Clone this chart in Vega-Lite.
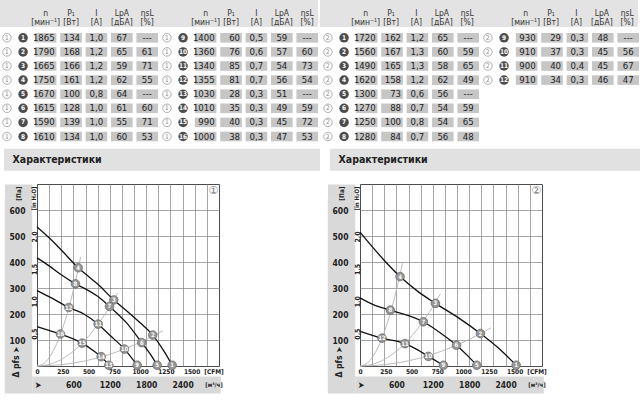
{
  "$schema": "https://vega.github.io/schema/vega-lite/v6.json",
  "background": "white",
  "padding": 0,
  "config": {
    "view": {"stroke": null},
    "font": "'Liberation Sans Narrow', 'DejaVu Sans Condensed', sans-serif",
    "axis": {"minExtent": 0, "labelFont": "'Liberation Sans Narrow', 'DejaVu Sans Condensed', sans-serif", "titleFont": "'Liberation Sans Narrow', 'DejaVu Sans Condensed', sans-serif", "labelColor": "#222", "titleColor": "#222"},
    "title": {"font": "'DejaVu Sans', sans-serif"}
  },
  "datasets": {
    "tabL": [
      {"g":1,"r":1,"k":1,"ch":1,"n":"1865","p":"134","i":"1,0","lp":"67","e":"---"},
      {"g":1,"r":2,"k":2,"ch":1,"n":"1790","p":"168","i":"1,2","lp":"65","e":"61"},
      {"g":1,"r":3,"k":3,"ch":1,"n":"1665","p":"166","i":"1,2","lp":"59","e":"71"},
      {"g":1,"r":4,"k":4,"ch":1,"n":"1750","p":"161","i":"1,2","lp":"62","e":"55"},
      {"g":1,"r":5,"k":5,"ch":1,"n":"1670","p":"100","i":"0,8","lp":"64","e":"---"},
      {"g":1,"r":6,"k":6,"ch":1,"n":"1615","p":"128","i":"1,0","lp":"61","e":"60"},
      {"g":1,"r":7,"k":7,"ch":1,"n":"1590","p":"139","i":"1,0","lp":"55","e":"71"},
      {"g":1,"r":8,"k":8,"ch":1,"n":"1610","p":"134","i":"1,0","lp":"60","e":"53"},
      {"g":2,"r":1,"k":9,"ch":1,"n":"1400","p":"60","i":"0,5","lp":"59","e":"---"},
      {"g":2,"r":2,"k":10,"ch":1,"n":"1360","p":"76","i":"0,6","lp":"57","e":"60"},
      {"g":2,"r":3,"k":11,"ch":1,"n":"1340","p":"85","i":"0,7","lp":"54","e":"73"},
      {"g":2,"r":4,"k":12,"ch":1,"n":"1355","p":"81","i":"0,7","lp":"56","e":"54"},
      {"g":2,"r":5,"k":13,"ch":1,"n":"1030","p":"28","i":"0,3","lp":"51","e":"---"},
      {"g":2,"r":6,"k":14,"ch":1,"n":"1010","p":"35","i":"0,3","lp":"49","e":"59"},
      {"g":2,"r":7,"k":15,"ch":1,"n":"990","p":"40","i":"0,3","lp":"45","e":"72"},
      {"g":2,"r":8,"k":16,"ch":1,"n":"1000","p":"38","i":"0,3","lp":"47","e":"53"}
    ],
    "tabR": [
      {"g":1,"r":1,"k":1,"ch":2,"n":"1720","p":"162","i":"1,2","lp":"65","e":"---"},
      {"g":1,"r":2,"k":2,"ch":2,"n":"1560","p":"167","i":"1,3","lp":"60","e":"59"},
      {"g":1,"r":3,"k":3,"ch":2,"n":"1490","p":"165","i":"1,3","lp":"58","e":"65"},
      {"g":1,"r":4,"k":4,"ch":2,"n":"1620","p":"158","i":"1,2","lp":"62","e":"49"},
      {"g":1,"r":5,"k":5,"ch":2,"n":"1300","p":"73","i":"0,6","lp":"56","e":"---"},
      {"g":1,"r":6,"k":6,"ch":2,"n":"1270","p":"88","i":"0,7","lp":"54","e":"59"},
      {"g":1,"r":7,"k":7,"ch":2,"n":"1250","p":"100","i":"0,8","lp":"54","e":"65"},
      {"g":1,"r":8,"k":8,"ch":2,"n":"1280","p":"84","i":"0,7","lp":"56","e":"48"},
      {"g":2,"r":1,"k":9,"ch":2,"n":"930","p":"29","i":"0,3","lp":"48","e":"---"},
      {"g":2,"r":2,"k":10,"ch":2,"n":"910","p":"37","i":"0,3","lp":"45","e":"56"},
      {"g":2,"r":3,"k":11,"ch":2,"n":"900","p":"40","i":"0,4","lp":"45","e":"67"},
      {"g":2,"r":4,"k":12,"ch":2,"n":"910","p":"34","i":"0,3","lp":"46","e":"47"}
    ],
    "hdr": [
      {"g":1,"key":"n","h1":"n","h2":"[мин⁻¹]"},
      {"g":1,"key":"p","h1":"P₁","h2":"[Вт]"},
      {"g":1,"key":"i","h1":"I","h2":"[A]"},
      {"g":1,"key":"lp","h1":"LpA","h2":"[дБА]"},
      {"g":1,"key":"e","h1":"ηsL","h2":"[%]"},
      {"g":2,"key":"n","h1":"n","h2":"[мин⁻¹]"},
      {"g":2,"key":"p","h1":"P₁","h2":"[Вт]"},
      {"g":2,"key":"i","h1":"I","h2":"[A]"},
      {"g":2,"key":"lp","h1":"LpA","h2":"[дБА]"},
      {"g":2,"key":"e","h1":"ηsL","h2":"[%]"}
    ],
    "bar": [{"t": "Характеристики"}],
    "sp": [{"t": ""}],
    "curves": [
      {"c":1,"s":"A","x":0,"y":535},{"c":1,"s":"A","x":200,"y":493},{"c":1,"s":"A","x":400,"y":446},{"c":1,"s":"A","x":679,"y":378},{"c":1,"s":"A","x":850,"y":344},{"c":1,"s":"A","x":1000,"y":315},{"c":1,"s":"A","x":1266,"y":254},{"c":1,"s":"A","x":1500,"y":208},{"c":1,"s":"A","x":1700,"y":166},{"c":1,"s":"A","x":1908,"y":119},{"c":1,"s":"A","x":2090,"y":58},{"c":1,"s":"A","x":2228,"y":3},
      {"c":1,"s":"B","x":0,"y":416},{"c":1,"s":"B","x":200,"y":385},{"c":1,"s":"B","x":400,"y":351},{"c":1,"s":"B","x":634,"y":316},{"c":1,"s":"B","x":850,"y":290},{"c":1,"s":"B","x":1000,"y":268},{"c":1,"s":"B","x":1195,"y":229},{"c":1,"s":"B","x":1480,"y":165},{"c":1,"s":"B","x":1727,"y":90},{"c":1,"s":"B","x":1871,"y":45},{"c":1,"s":"B","x":1981,"y":3},
      {"c":1,"s":"C","x":0,"y":290},{"c":1,"s":"C","x":222,"y":264},{"c":1,"s":"C","x":524,"y":225},{"c":1,"s":"C","x":772,"y":200},{"c":1,"s":"C","x":1008,"y":161},{"c":1,"s":"C","x":1211,"y":116},{"c":1,"s":"C","x":1442,"y":65},{"c":1,"s":"C","x":1651,"y":3},
      {"c":1,"s":"D","x":0,"y":151},{"c":1,"s":"D","x":222,"y":135},{"c":1,"s":"D","x":387,"y":123},{"c":1,"s":"D","x":745,"y":88},{"c":1,"s":"D","x":936,"y":58},{"c":1,"s":"D","x":1058,"y":36},{"c":1,"s":"D","x":1184,"y":3},
      {"c":2,"s":"A","x":0,"y":515},{"c":2,"s":"A","x":401,"y":406},{"c":2,"s":"A","x":660,"y":344},{"c":2,"s":"A","x":952,"y":287},{"c":2,"s":"A","x":1243,"y":241},{"c":2,"s":"A","x":1612,"y":187},{"c":2,"s":"A","x":1985,"y":125},{"c":2,"s":"A","x":2272,"y":71},{"c":2,"s":"A","x":2574,"y":3},
      {"c":2,"s":"B","x":0,"y":262},{"c":2,"s":"B","x":237,"y":234},{"c":2,"s":"B","x":500,"y":215},{"c":2,"s":"B","x":1045,"y":170},{"c":2,"s":"B","x":1320,"y":128},{"c":2,"s":"B","x":1590,"y":80},{"c":2,"s":"B","x":1777,"y":39},{"c":2,"s":"B","x":1925,"y":3},
      {"c":2,"s":"C","x":0,"y":133},{"c":2,"s":"C","x":180,"y":120},{"c":2,"s":"C","x":363,"y":107},{"c":2,"s":"C","x":742,"y":86},{"c":2,"s":"C","x":950,"y":62},{"c":2,"s":"C","x":1127,"y":37},{"c":2,"s":"C","x":1375,"y":3}
    ],
    "sys": [
      {"c":1,"s":"s1","x":0,"y":0},{"c":1,"s":"s1","x":100,"y":8},{"c":1,"s":"s1","x":200,"y":32},{"c":1,"s":"s1","x":300,"y":73},{"c":1,"s":"s1","x":400,"y":130},{"c":1,"s":"s1","x":500,"y":203},{"c":1,"s":"s1","x":600,"y":292},{"c":1,"s":"s1","x":700,"y":397},{"c":1,"s":"s1","x":720,"y":420},
      {"c":1,"s":"s2","x":0,"y":0},{"c":1,"s":"s2","x":200,"y":6},{"c":1,"s":"s2","x":400,"y":25},{"c":1,"s":"s2","x":600,"y":57},{"c":1,"s":"s2","x":800,"y":101},{"c":1,"s":"s2","x":1000,"y":159},{"c":1,"s":"s2","x":1200,"y":228},{"c":1,"s":"s2","x":1330,"y":280},
      {"c":1,"s":"s3","x":0,"y":0},{"c":1,"s":"s3","x":400,"y":5},{"c":1,"s":"s3","x":800,"y":20},{"c":1,"s":"s3","x":1200,"y":45},{"c":1,"s":"s3","x":1600,"y":81},{"c":1,"s":"s3","x":2000,"y":126},{"c":1,"s":"s3","x":2080,"y":136},
      {"c":2,"s":"s1","x":0,"y":0},{"c":2,"s":"s1","x":100,"y":8},{"c":2,"s":"s1","x":200,"y":32},{"c":2,"s":"s1","x":300,"y":73},{"c":2,"s":"s1","x":400,"y":130},{"c":2,"s":"s1","x":500,"y":203},{"c":2,"s":"s1","x":600,"y":292},{"c":2,"s":"s1","x":700,"y":395},
      {"c":2,"s":"s2","x":0,"y":0},{"c":2,"s":"s2","x":200,"y":6},{"c":2,"s":"s2","x":400,"y":25},{"c":2,"s":"s2","x":600,"y":57},{"c":2,"s":"s2","x":800,"y":101},{"c":2,"s":"s2","x":1000,"y":159},{"c":2,"s":"s2","x":1200,"y":228},{"c":2,"s":"s2","x":1325,"y":278},
      {"c":2,"s":"s3","x":0,"y":0},{"c":2,"s":"s3","x":400,"y":5},{"c":2,"s":"s3","x":800,"y":20},{"c":2,"s":"s3","x":1200,"y":45},{"c":2,"s":"s3","x":1600,"y":81},{"c":2,"s":"s3","x":2000,"y":126},{"c":2,"s":"s3","x":2160,"y":147}
    ],
    "pts": [
      {"c":1,"k":1,"x":2228,"y":3},{"c":1,"k":2,"x":1908,"y":119},{"c":1,"k":3,"x":1266,"y":254},{"c":1,"k":4,"x":679,"y":378},
      {"c":1,"k":5,"x":1981,"y":3},{"c":1,"k":6,"x":1727,"y":90},{"c":1,"k":7,"x":1195,"y":229},{"c":1,"k":8,"x":634,"y":316},
      {"c":1,"k":9,"x":1651,"y":3},{"c":1,"k":10,"x":1442,"y":65},{"c":1,"k":11,"x":1008,"y":161},{"c":1,"k":12,"x":524,"y":225},
      {"c":1,"k":13,"x":1184,"y":3},{"c":1,"k":14,"x":1058,"y":36},{"c":1,"k":15,"x":745,"y":88},{"c":1,"k":16,"x":387,"y":123},
      {"c":2,"k":1,"x":2574,"y":3},{"c":2,"k":2,"x":1985,"y":125},{"c":2,"k":3,"x":1243,"y":241},{"c":2,"k":4,"x":660,"y":344},
      {"c":2,"k":5,"x":1925,"y":3},{"c":2,"k":6,"x":1590,"y":80},{"c":2,"k":7,"x":1045,"y":170},{"c":2,"k":8,"x":500,"y":215},
      {"c":2,"k":9,"x":1375,"y":3},{"c":2,"k":10,"x":1127,"y":37},{"c":2,"k":11,"x":742,"y":86},{"c":2,"k":12,"x":363,"y":107}
    ]
  },
  "spacing": 7,
  "vconcat": [
    {
      "spacing": -1.25,
      "vconcat": [
        {
          "spacing": 3.75,
          "vconcat": [
            {
              "spacing": 2,
              "hconcat": [
                {
                  "width": 318, "height": 27,
                  "view": {"fill": "#e3e3e3", "stroke": null},
                  "data": {"name": "hdr"},
                  "encoding": {
                    "x": {"field": "g", "type": "ordinal", "axis": null, "scale": {"type": "band", "domain": [1, 2], "paddingInner": 0.0125, "paddingOuter": 0}},
                    "xOffset": {"field": "key", "type": "nominal", "scale": {"type": "band", "domain": ["c", "n", "p", "i", "lp", "e"], "paddingInner": 0.15, "paddingOuter": 0.186, "align": 1}}
                  },
                  "layer": [
                    {"mark": {"type": "text", "fontSize": 8.5, "color": "#333", "baseline": "middle"},
                     "encoding": {"y": {"datum": "a", "type": "nominal", "axis": null, "scale": {"type": "band", "domain": ["a", "b"], "paddingInner": 0, "paddingOuter": 0.5, "align": 0.889}}, "text": {"field": "h1", "type": "nominal"}}},
                    {"mark": {"type": "text", "fontSize": 8.5, "color": "#333", "baseline": "middle"},
                     "encoding": {"y": {"datum": "b", "type": "nominal", "axis": null, "scale": {"type": "band", "domain": ["a", "b"], "paddingInner": 0, "paddingOuter": 0.5, "align": 0.889}}, "text": {"field": "h2", "type": "nominal"}}}
                  ]
                },
                {
                  "width": 318, "height": 27,
                  "view": {"fill": "#e3e3e3", "stroke": null},
                  "data": {"name": "hdr"},
                  "encoding": {
                    "x": {"field": "g", "type": "ordinal", "axis": null, "scale": {"type": "band", "domain": [1, 2], "paddingInner": 0.0125, "paddingOuter": 0}},
                    "xOffset": {"field": "key", "type": "nominal", "scale": {"type": "band", "domain": ["c", "n", "p", "i", "lp", "e"], "paddingInner": 0.15, "paddingOuter": 0.186, "align": 1}}
                  },
                  "layer": [
                    {"mark": {"type": "text", "fontSize": 8.5, "color": "#333", "baseline": "middle"},
                     "encoding": {"y": {"datum": "a", "type": "nominal", "axis": null, "scale": {"type": "band", "domain": ["a", "b"], "paddingInner": 0, "paddingOuter": 0.5, "align": 0.889}}, "text": {"field": "h1", "type": "nominal"}}},
                    {"mark": {"type": "text", "fontSize": 8.5, "color": "#333", "baseline": "middle"},
                     "encoding": {"y": {"datum": "b", "type": "nominal", "axis": null, "scale": {"type": "band", "domain": ["a", "b"], "paddingInner": 0, "paddingOuter": 0.5, "align": 0.889}}, "text": {"field": "h2", "type": "nominal"}}}
                  ]
                }
              ]
            },
            {
              "spacing": 2,
              "hconcat": [
                {
                  "width": 318, "height": 112.8,
                  "data": {"name": "tabL"},
                  "encoding": {
                    "x": {"field": "g", "type": "ordinal", "axis": null, "scale": {"type": "band", "domain": [1, 2], "paddingInner": 0.0125, "paddingOuter": 0}},
                    "y": {"field": "r", "type": "ordinal", "axis": null, "scale": {"type": "band", "domain": [1, 2, 3, 4, 5, 6, 7, 8], "paddingInner": 0.32, "paddingOuter": 0.16}}
                  },
                  "layer": [
                    {
                      "transform": [{"fold": ["n", "p", "i", "lp", "e"], "as": ["key", "val"]}],
                      "mark": {"type": "rect", "fill": "#c6c6c6"},
                      "encoding": {"xOffset": {"field": "key", "type": "nominal", "scale": {"type": "band", "domain": ["c", "n", "p", "i", "lp", "e"], "paddingInner": 0.15, "paddingOuter": 0.186, "align": 1}}}
                    },
                    {
                      "transform": [{"fold": ["n", "p", "i", "lp", "e"], "as": ["key", "val"]}, {"filter": {"field": "key", "oneOf": ["n", "p"]}}],
                      "mark": {"type": "text", "align": "right", "dx": 9, "fontSize": 9.5, "color": "#222", "baseline": "middle"},
                      "encoding": {"xOffset": {"field": "key", "type": "nominal", "scale": {"type": "band", "domain": ["c", "n", "p", "i", "lp", "e"], "paddingInner": 0.15, "paddingOuter": 0.186, "align": 1}}, "text": {"field": "val", "type": "nominal"}}
                    },
                    {
                      "transform": [{"fold": ["n", "p", "i", "lp", "e"], "as": ["key", "val"]}, {"filter": {"field": "key", "oneOf": ["i", "lp", "e"]}}],
                      "mark": {"type": "text", "align": "center", "fontSize": 9.5, "color": "#222", "baseline": "middle"},
                      "encoding": {"xOffset": {"field": "key", "type": "nominal", "scale": {"type": "band", "domain": ["c", "n", "p", "i", "lp", "e"], "paddingInner": 0.15, "paddingOuter": 0.186, "align": 1}}, "text": {"field": "val", "type": "nominal"}}
                    },
                    {
                      "mark": {"type": "point", "shape": "circle", "filled": false, "stroke": "#9a9a9a", "strokeWidth": 0.8, "size": 72, "opacity": 1},
                      "encoding": {"x": {"field": "g", "type": "ordinal", "axis": null, "bandPosition": 0.044, "scale": {"type": "band", "domain": [1, 2], "paddingInner": 0.0125, "paddingOuter": 0}}}
                    },
                    {
                      "mark": {"type": "text", "fontSize": 6.5, "color": "#8a8a8a", "baseline": "middle"},
                      "encoding": {"x": {"field": "g", "type": "ordinal", "axis": null, "bandPosition": 0.044, "scale": {"type": "band", "domain": [1, 2], "paddingInner": 0.0125, "paddingOuter": 0}}, "text": {"field": "ch", "type": "nominal"}}
                    },
                    {
                      "mark": {"type": "point", "shape": "circle", "filled": true, "color": "#4d4d4d", "size": 90, "opacity": 1},
                      "encoding": {"x": {"field": "g", "type": "ordinal", "axis": null, "bandPosition": 0.146, "scale": {"type": "band", "domain": [1, 2], "paddingInner": 0.0125, "paddingOuter": 0}}}
                    },
                    {
                      "mark": {"type": "text", "fontSize": 6.5, "color": "white", "fontWeight": "bold", "baseline": "middle"},
                      "encoding": {"x": {"field": "g", "type": "ordinal", "axis": null, "bandPosition": 0.146, "scale": {"type": "band", "domain": [1, 2], "paddingInner": 0.0125, "paddingOuter": 0}}, "text": {"field": "k", "type": "nominal"}}
                    }
                  ]
                },
                {
                  "width": 318, "height": 112.8,
                  "data": {"name": "tabR"},
                  "encoding": {
                    "x": {"field": "g", "type": "ordinal", "axis": null, "scale": {"type": "band", "domain": [1, 2], "paddingInner": 0.0125, "paddingOuter": 0}},
                    "y": {"field": "r", "type": "ordinal", "axis": null, "scale": {"type": "band", "domain": [1, 2, 3, 4, 5, 6, 7, 8], "paddingInner": 0.32, "paddingOuter": 0.16}}
                  },
                  "layer": [
                    {
                      "transform": [{"fold": ["n", "p", "i", "lp", "e"], "as": ["key", "val"]}],
                      "mark": {"type": "rect", "fill": "#c6c6c6"},
                      "encoding": {"xOffset": {"field": "key", "type": "nominal", "scale": {"type": "band", "domain": ["c", "n", "p", "i", "lp", "e"], "paddingInner": 0.15, "paddingOuter": 0.186, "align": 1}}}
                    },
                    {
                      "transform": [{"fold": ["n", "p", "i", "lp", "e"], "as": ["key", "val"]}, {"filter": {"field": "key", "oneOf": ["n", "p"]}}],
                      "mark": {"type": "text", "align": "right", "dx": 9, "fontSize": 9.5, "color": "#222", "baseline": "middle"},
                      "encoding": {"xOffset": {"field": "key", "type": "nominal", "scale": {"type": "band", "domain": ["c", "n", "p", "i", "lp", "e"], "paddingInner": 0.15, "paddingOuter": 0.186, "align": 1}}, "text": {"field": "val", "type": "nominal"}}
                    },
                    {
                      "transform": [{"fold": ["n", "p", "i", "lp", "e"], "as": ["key", "val"]}, {"filter": {"field": "key", "oneOf": ["i", "lp", "e"]}}],
                      "mark": {"type": "text", "align": "center", "fontSize": 9.5, "color": "#222", "baseline": "middle"},
                      "encoding": {"xOffset": {"field": "key", "type": "nominal", "scale": {"type": "band", "domain": ["c", "n", "p", "i", "lp", "e"], "paddingInner": 0.15, "paddingOuter": 0.186, "align": 1}}, "text": {"field": "val", "type": "nominal"}}
                    },
                    {
                      "mark": {"type": "point", "shape": "circle", "filled": false, "stroke": "#9a9a9a", "strokeWidth": 0.8, "size": 72, "opacity": 1},
                      "encoding": {"x": {"field": "g", "type": "ordinal", "axis": null, "bandPosition": 0.044, "scale": {"type": "band", "domain": [1, 2], "paddingInner": 0.0125, "paddingOuter": 0}}}
                    },
                    {
                      "mark": {"type": "text", "fontSize": 6.5, "color": "#8a8a8a", "baseline": "middle"},
                      "encoding": {"x": {"field": "g", "type": "ordinal", "axis": null, "bandPosition": 0.044, "scale": {"type": "band", "domain": [1, 2], "paddingInner": 0.0125, "paddingOuter": 0}}, "text": {"field": "ch", "type": "nominal"}}
                    },
                    {
                      "mark": {"type": "point", "shape": "circle", "filled": true, "color": "#4d4d4d", "size": 90, "opacity": 1},
                      "encoding": {"x": {"field": "g", "type": "ordinal", "axis": null, "bandPosition": 0.146, "scale": {"type": "band", "domain": [1, 2], "paddingInner": 0.0125, "paddingOuter": 0}}}
                    },
                    {
                      "mark": {"type": "text", "fontSize": 6.5, "color": "white", "fontWeight": "bold", "baseline": "middle"},
                      "encoding": {"x": {"field": "g", "type": "ordinal", "axis": null, "bandPosition": 0.146, "scale": {"type": "band", "domain": [1, 2], "paddingInner": 0.0125, "paddingOuter": 0}}, "text": {"field": "k", "type": "nominal"}}
                    }
                  ]
                }
              ]
            }
          ]
        },
        {
          "spacing": 10,
          "hconcat": [
            {
              "spacing": 3,
              "hconcat": [
                {"width": 1, "height": 1, "data": {"name": "sp"}, "mark": {"type": "text", "text": ""}},
                {
                  "width": 316, "height": 22,
                  "view": {"fill": "#e1e1e1", "stroke": null},
                  "data": {"name": "bar"},
                  "mark": {"type": "text", "align": "left", "dx": 8.5, "fontSize": 10.5, "fontWeight": "bold", "color": "#222", "baseline": "middle"},
                  "encoding": {
                    "x": {"field": "t", "type": "nominal", "axis": null, "bandPosition": 0, "scale": {"type": "band", "paddingInner": 0, "paddingOuter": 0}},
                    "text": {"field": "t", "type": "nominal"}
                  }
                }
              ]
            },
            {
              "width": 310, "height": 22,
              "view": {"fill": "#e1e1e1", "stroke": null},
              "data": {"name": "bar"},
              "mark": {"type": "text", "align": "left", "dx": 8.5, "fontSize": 10.5, "fontWeight": "bold", "color": "#222", "baseline": "middle"},
              "encoding": {
                "x": {"field": "t", "type": "nominal", "axis": null, "bandPosition": 0, "scale": {"type": "band", "paddingInner": 0, "paddingOuter": 0}},
                "text": {"field": "t", "type": "nominal"}
              }
            }
          ]
        }
      ]
    },
    {
      "spacing": 99,
      "hconcat": [
        {
          "spacing": -1,
          "hconcat": [
            {"width": 1, "height": 1, "data": {"name": "sp"}, "mark": {"type": "text", "text": ""}},
            {
              "width": 182, "height": 182,
              "view": {"stroke": "#4d4d4d", "strokeWidth": 1, "fill": "white"},
              "title": {"text": "①", "anchor": "end", "frame": "group", "orient": "top", "offset": -11.75, "dx": -1, "fontSize": 11, "fontWeight": "normal", "color": "#777"},
              "layer": [
                {
                  "data": {"name": "sys"},
                  "transform": [{"filter": "datum.c == 1"}],
                  "mark": {"type": "line", "color": "#b3b3b3", "strokeWidth": 0.9, "interpolate": "monotone"},
                  "encoding": {
                    "x": {"field": "x", "type": "quantitative", "scale": {"domain": [0, 3000], "nice": false, "zero": false}, "axis": {"values": [200, 400, 600, 800, 1000, 1200, 1400, 1600, 1800, 2000, 2200, 2400, 2600, 2800], "grid": true, "gridColor": "#7f7f7f", "gridWidth": 0.7, "labels": false, "ticks": false, "domain": false, "title": null}},
                    "y": {"field": "y", "type": "quantitative", "scale": {"domain": [0, 700], "nice": false, "zero": false}, "axis": {"values": [100, 200, 300, 400, 500, 600], "grid": true, "gridColor": "#7f7f7f", "gridWidth": 0.7, "labels": false, "ticks": false, "domain": false, "title": null}},
                    "detail": {"field": "s", "type": "nominal"}
                  }
                },
                {
                  "data": {"name": "curves"},
                  "transform": [{"filter": "datum.c == 1"}],
                  "mark": {"type": "line", "color": "#111", "strokeWidth": 1.3, "interpolate": "monotone"},
                  "encoding": {
                    "x": {"field": "x", "type": "quantitative", "scale": {"domain": [0, 3000], "nice": false, "zero": false}, "axis": {"orient": "bottom", "values": [0, 424.75, 849.5, 1274.25, 1699, 2123.75, 2548.5, 2910], "labelExpr": "datum.value > 2900 ? '[CFM]' : format(datum.value / 1.699, '.0f')", "ticks": false, "tickSize": 0, "domain": false, "grid": false, "labelPadding": 2, "labelFontSize": 6.5, "labelFontWeight": "bold", "labelFlush": false, "labelOverlap": false, "labelBound": false, "title": null}},
                    "y": {"field": "y", "type": "quantitative", "scale": {"domain": [0, 700], "nice": false, "zero": false}, "axis": {"orient": "left", "values": [100, 200, 300, 400, 500, 600, 661.5, 684.6], "labelExpr": "datum.value > 650 ? '' : format(datum.value, 'd')", "offset": 5, "grid": false, "domain": false, "ticks": true, "tickSize": 27.5, "tickWidth": 8, "tickCap": "butt", "tickColor": "#d9d9d9", "tickOpacity": {"condition": {"test": "datum.value > 650", "value": 1}, "value": 0}, "labelPadding": -20.5, "labelFontSize": 8.5, "labelFontWeight": "bold", "labelFlush": false, "labelOverlap": false, "labelBound": false, "title": "[Па]", "titleX": -13.75, "titleY": 2, "titleAngle": -90, "titleAlign": "right", "titleBaseline": "middle", "titleFontSize": 6.5, "titleFontWeight": "bold"}},
                    "detail": {"field": "s", "type": "nominal"}
                  }
                },
                {
                  "data": {"name": "pts"},
                  "transform": [{"filter": "datum.c == 1"}],
                  "mark": {"type": "point", "shape": "circle", "filled": true, "fill": "#969696", "stroke": "#666", "strokeWidth": 0.7, "size": 75, "opacity": 1},
                  "encoding": {
                    "x": {"field": "x", "type": "quantitative", "scale": {"domain": [0, 3000], "nice": false, "zero": false}, "axis": {"orient": "bottom", "values": [600, 1200, 1471.2, 1800, 2400, 2910], "labelExpr": "datum.value == 1471.2 ? '' : datum.value > 2900 ? '[м³/ч]' : format(datum.value, 'd')", "offset": 10, "domain": false, "grid": false, "ticks": true, "tickSize": 17, "tickWidth": 188.5, "tickCap": "butt", "tickColor": "#d9d9d9", "tickOpacity": {"condition": {"test": "datum.value == 1471.2", "value": 1}, "value": 0}, "labelBaseline": "middle", "labelPadding": -8.5, "labelFontSize": {"condition": {"test": "datum.value > 2900", "value": 6}, "value": 8.5}, "labelFontWeight": "bold", "labelFlush": false, "labelOverlap": false, "labelBound": false, "title": "V̇ ➤", "titleX": -4, "titleY": 8.5, "titleBaseline": "middle", "titleAlign": "center", "titleFontSize": 9, "titleFontWeight": "bold"}},
                    "y": {"field": "y", "type": "quantitative", "scale": {"domain": [0, 700], "nice": false, "zero": false}, "axis": {"orient": "left", "values": [124.5, 249, 373.5, 498], "labelExpr": "datum.value < 200 ? '0,5' : datum.value < 300 ? '1,0' : datum.value < 400 ? '1,5' : '2,0'", "labelAngle": -90, "labelAlign": "center", "labelBaseline": "bottom", "labelPadding": 0, "ticks": false, "tickSize": 0, "domain": false, "grid": false, "labelFontSize": 7, "labelFontWeight": "bold", "labelFlush": false, "labelOverlap": false, "title": "[in H₂O]", "titleX": -3.5, "titleY": 2, "titleAngle": -90, "titleAlign": "right", "titleBaseline": "middle", "titleFontSize": 6, "titleFontWeight": "bold"}}
                  }
                },
                {
                  "data": {"name": "pts"},
                  "transform": [{"filter": "datum.c == 1"}],
                  "mark": {"type": "text", "fontSize": 6, "fontWeight": "bold", "color": "white", "baseline": "middle"},
                  "encoding": {
                    "x": {"field": "x", "type": "quantitative", "scale": {"domain": [0, 3000], "nice": false, "zero": false}, "axis": {"orient": "top", "offset": -209, "values": [0], "tickOffset": -18.75, "labels": false, "domain": false, "grid": false, "ticks": true, "tickSize": 195.25, "tickWidth": 27.5, "tickCap": "butt", "tickColor": "#d9d9d9", "title": null}},
                    "y": {"field": "y", "type": "quantitative", "scale": {"domain": [0, 700], "nice": false, "zero": false}, "axis": {"orient": "left", "values": [0], "labels": false, "domain": false, "grid": false, "ticks": false, "title": "Δ pfs ➤", "titleX": -21.5, "titleY": 193, "titleAngle": -90, "titleAlign": "left", "titleBaseline": "middle", "titleFontSize": 8.5, "titleFontWeight": "bold"}},
                    "text": {"field": "k", "type": "nominal"}
                  }
                }
              ],
              "resolve": {"axis": {"x": "independent", "y": "independent"}}
            }
          ]
        },
        {
          "width": 182, "height": 182,
          "view": {"stroke": "#4d4d4d", "strokeWidth": 1, "fill": "white"},
          "title": {"text": "②", "anchor": "end", "frame": "group", "orient": "top", "offset": -11.75, "dx": -1, "fontSize": 11, "fontWeight": "normal", "color": "#777"},
          "layer": [
            {
              "data": {"name": "sys"},
              "transform": [{"filter": "datum.c == 2"}],
              "mark": {"type": "line", "color": "#b3b3b3", "strokeWidth": 0.9, "interpolate": "monotone"},
              "encoding": {
                "x": {"field": "x", "type": "quantitative", "scale": {"domain": [0, 3000], "nice": false, "zero": false}, "axis": {"values": [200, 400, 600, 800, 1000, 1200, 1400, 1600, 1800, 2000, 2200, 2400, 2600, 2800], "grid": true, "gridColor": "#7f7f7f", "gridWidth": 0.7, "labels": false, "ticks": false, "domain": false, "title": null}},
                "y": {"field": "y", "type": "quantitative", "scale": {"domain": [0, 700], "nice": false, "zero": false}, "axis": {"values": [100, 200, 300, 400, 500, 600], "grid": true, "gridColor": "#7f7f7f", "gridWidth": 0.7, "labels": false, "ticks": false, "domain": false, "title": null}},
                "detail": {"field": "s", "type": "nominal"}
              }
            },
            {
              "data": {"name": "curves"},
              "transform": [{"filter": "datum.c == 2"}],
              "mark": {"type": "line", "color": "#111", "strokeWidth": 1.3, "interpolate": "monotone"},
              "encoding": {
                "x": {"field": "x", "type": "quantitative", "scale": {"domain": [0, 3000], "nice": false, "zero": false}, "axis": {"orient": "bottom", "values": [0, 424.75, 849.5, 1274.25, 1699, 2123.75, 2548.5, 2910], "labelExpr": "datum.value > 2900 ? '[CFM]' : format(datum.value / 1.699, '.0f')", "ticks": false, "tickSize": 0, "domain": false, "grid": false, "labelPadding": 2, "labelFontSize": 6.5, "labelFontWeight": "bold", "labelFlush": false, "labelOverlap": false, "labelBound": false, "title": null}},
                "y": {"field": "y", "type": "quantitative", "scale": {"domain": [0, 700], "nice": false, "zero": false}, "axis": {"orient": "left", "values": [100, 200, 300, 400, 500, 600, 661.5, 684.6], "labelExpr": "datum.value > 650 ? '' : format(datum.value, 'd')", "offset": 5, "grid": false, "domain": false, "ticks": true, "tickSize": 27.5, "tickWidth": 8, "tickCap": "butt", "tickColor": "#d9d9d9", "tickOpacity": {"condition": {"test": "datum.value > 650", "value": 1}, "value": 0}, "labelPadding": -20.5, "labelFontSize": 8.5, "labelFontWeight": "bold", "labelFlush": false, "labelOverlap": false, "labelBound": false, "title": "[Па]", "titleX": -13.75, "titleY": 2, "titleAngle": -90, "titleAlign": "right", "titleBaseline": "middle", "titleFontSize": 6.5, "titleFontWeight": "bold"}},
                "detail": {"field": "s", "type": "nominal"}
              }
            },
            {
              "data": {"name": "pts"},
              "transform": [{"filter": "datum.c == 2"}],
              "mark": {"type": "point", "shape": "circle", "filled": true, "fill": "#969696", "stroke": "#666", "strokeWidth": 0.7, "size": 75, "opacity": 1},
              "encoding": {
                "x": {"field": "x", "type": "quantitative", "scale": {"domain": [0, 3000], "nice": false, "zero": false}, "axis": {"orient": "bottom", "values": [600, 1200, 1471.2, 1800, 2400, 2910], "labelExpr": "datum.value == 1471.2 ? '' : datum.value > 2900 ? '[м³/ч]' : format(datum.value, 'd')", "offset": 10, "domain": false, "grid": false, "ticks": true, "tickSize": 17, "tickWidth": 188.5, "tickCap": "butt", "tickColor": "#d9d9d9", "tickOpacity": {"condition": {"test": "datum.value == 1471.2", "value": 1}, "value": 0}, "labelBaseline": "middle", "labelPadding": -8.5, "labelFontSize": {"condition": {"test": "datum.value > 2900", "value": 6}, "value": 8.5}, "labelFontWeight": "bold", "labelFlush": false, "labelOverlap": false, "labelBound": false, "title": "V̇ ➤", "titleX": -4, "titleY": 8.5, "titleBaseline": "middle", "titleAlign": "center", "titleFontSize": 9, "titleFontWeight": "bold"}},
                "y": {"field": "y", "type": "quantitative", "scale": {"domain": [0, 700], "nice": false, "zero": false}, "axis": {"orient": "left", "values": [124.5, 249, 373.5, 498], "labelExpr": "datum.value < 200 ? '0,5' : datum.value < 300 ? '1,0' : datum.value < 400 ? '1,5' : '2,0'", "labelAngle": -90, "labelAlign": "center", "labelBaseline": "bottom", "labelPadding": 0, "ticks": false, "tickSize": 0, "domain": false, "grid": false, "labelFontSize": 7, "labelFontWeight": "bold", "labelFlush": false, "labelOverlap": false, "title": "[in H₂O]", "titleX": -3.5, "titleY": 2, "titleAngle": -90, "titleAlign": "right", "titleBaseline": "middle", "titleFontSize": 6, "titleFontWeight": "bold"}}
              }
            },
            {
              "data": {"name": "pts"},
              "transform": [{"filter": "datum.c == 2"}],
              "mark": {"type": "text", "fontSize": 6, "fontWeight": "bold", "color": "white", "baseline": "middle"},
              "encoding": {
                "x": {"field": "x", "type": "quantitative", "scale": {"domain": [0, 3000], "nice": false, "zero": false}, "axis": {"orient": "top", "offset": -209, "values": [0], "tickOffset": -18.75, "labels": false, "domain": false, "grid": false, "ticks": true, "tickSize": 195.25, "tickWidth": 27.5, "tickCap": "butt", "tickColor": "#d9d9d9", "title": null}},
                "y": {"field": "y", "type": "quantitative", "scale": {"domain": [0, 700], "nice": false, "zero": false}, "axis": {"orient": "left", "values": [0], "labels": false, "domain": false, "grid": false, "ticks": false, "title": "Δ pfs ➤", "titleX": -21.5, "titleY": 193, "titleAngle": -90, "titleAlign": "left", "titleBaseline": "middle", "titleFontSize": 8.5, "titleFontWeight": "bold"}},
                "text": {"field": "k", "type": "nominal"}
              }
            }
          ],
          "resolve": {"axis": {"x": "independent", "y": "independent"}}
        }
      ]
    }
  ]
}
